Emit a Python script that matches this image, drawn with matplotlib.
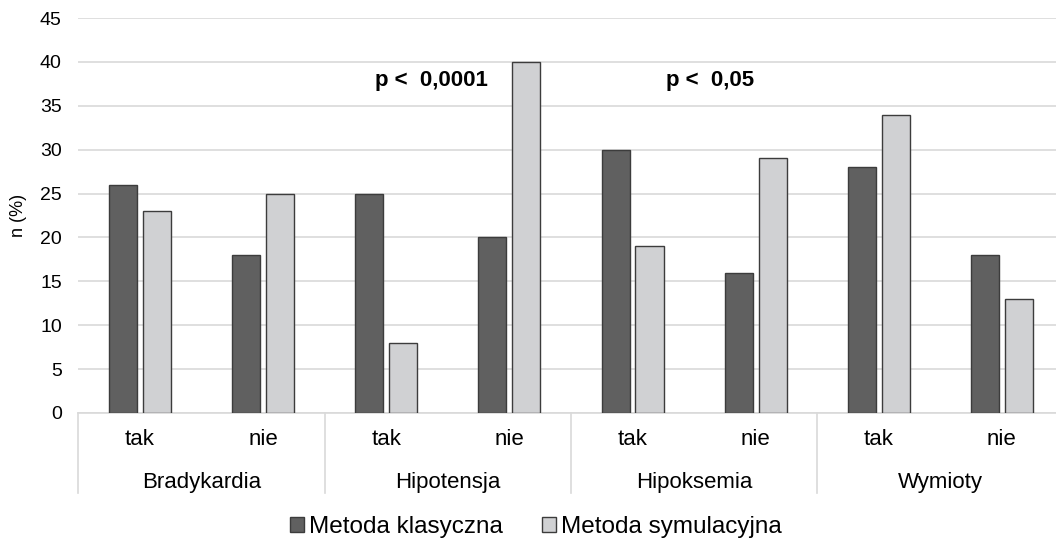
import numpy as np
import matplotlib.pyplot as plt

plt.rcParams['font.family'] = ['Liberation Sans', 'DejaVu Sans']

# dane
groups = ["Bradykardia", "Hipotensja", "Hipoksemia", "Wymioty"]
subcats = ["tak", "nie"]
klasyczna = [26, 18, 25, 20, 30, 16, 28, 18]
symulacyjna = [23, 25, 8, 40, 19, 29, 34, 13]
yticks = np.arange(0, 50, 5)

dark = "#606060"
light = "#d0d1d3"
edge = "#3c3c3c"
grid_c = "#d9d9d9"

fig = plt.figure(figsize=(10.56, 5.39), dpi=100)
# obszar wykresu wychodzi nieco poza prawa krawedz obrazka (jak w oryginale)
ax = fig.add_axes([0.0743, 0.2338, 0.9328, 0.7328])

x = np.arange(len(klasyczna))
w = 0.228
off = 0.138
ax.bar(x - off, klasyczna, w, color=dark, edgecolor=edge, linewidth=1, label="Metoda klasyczna", zorder=3)
ax.bar(x + off, symulacyjna, w, color=light, edgecolor=edge, linewidth=1, label="Metoda symulacyjna", zorder=3)

ax.set_xlim(-0.5, len(x) - 0.5)
ax.set_ylim(0, 45)
ax.set_yticks(yticks)
ax.tick_params(axis='y', length=0, labelsize=14, pad=12)
ax.set_xticks([])
ax.yaxis.grid(True, color=grid_c, linewidth=1.2, zorder=0)
for s in ["top", "right", "left"]:
    ax.spines[s].set_visible(False)
ax.spines["bottom"].set_color(grid_c)
ax.spines["bottom"].set_linewidth(1.2)
ax.set_ylabel("n (%)", fontsize=13, labelpad=9)

# etykiety wielopoziomowe
tr = ax.get_xaxis_transform()
for i in range(len(x)):
    ax.text(x[i], -0.068, subcats[i % 2], transform=tr, ha="center", va="center", fontsize=16)
for g, name in enumerate(groups):
    ax.text(2 * g + 0.5, -0.175, name, transform=tr, ha="center", va="center", fontsize=16)
for b in np.arange(-0.5, len(x), 2):
    ax.plot([b, b], [0, -0.2025], transform=tr, color=grid_c, linewidth=1.2, clip_on=False)

# adnotacje
ax.text(2.37, 37.9, "p <  0,0001", ha="center", va="center", fontsize=16, fontweight="bold")
ax.text(4.63, 37.9, "p <  0,05", ha="center", va="center", fontsize=16, fontweight="bold")

fig.legend(loc="center", bbox_to_anchor=(0.5076, 0.022), ncol=2, frameon=False,
           fontsize=17.5, handlelength=0.58, handleheight=0.58, handletextpad=0.2, columnspacing=1.6,
           borderpad=0, borderaxespad=0)

fig.savefig("out.png", dpi=100)
